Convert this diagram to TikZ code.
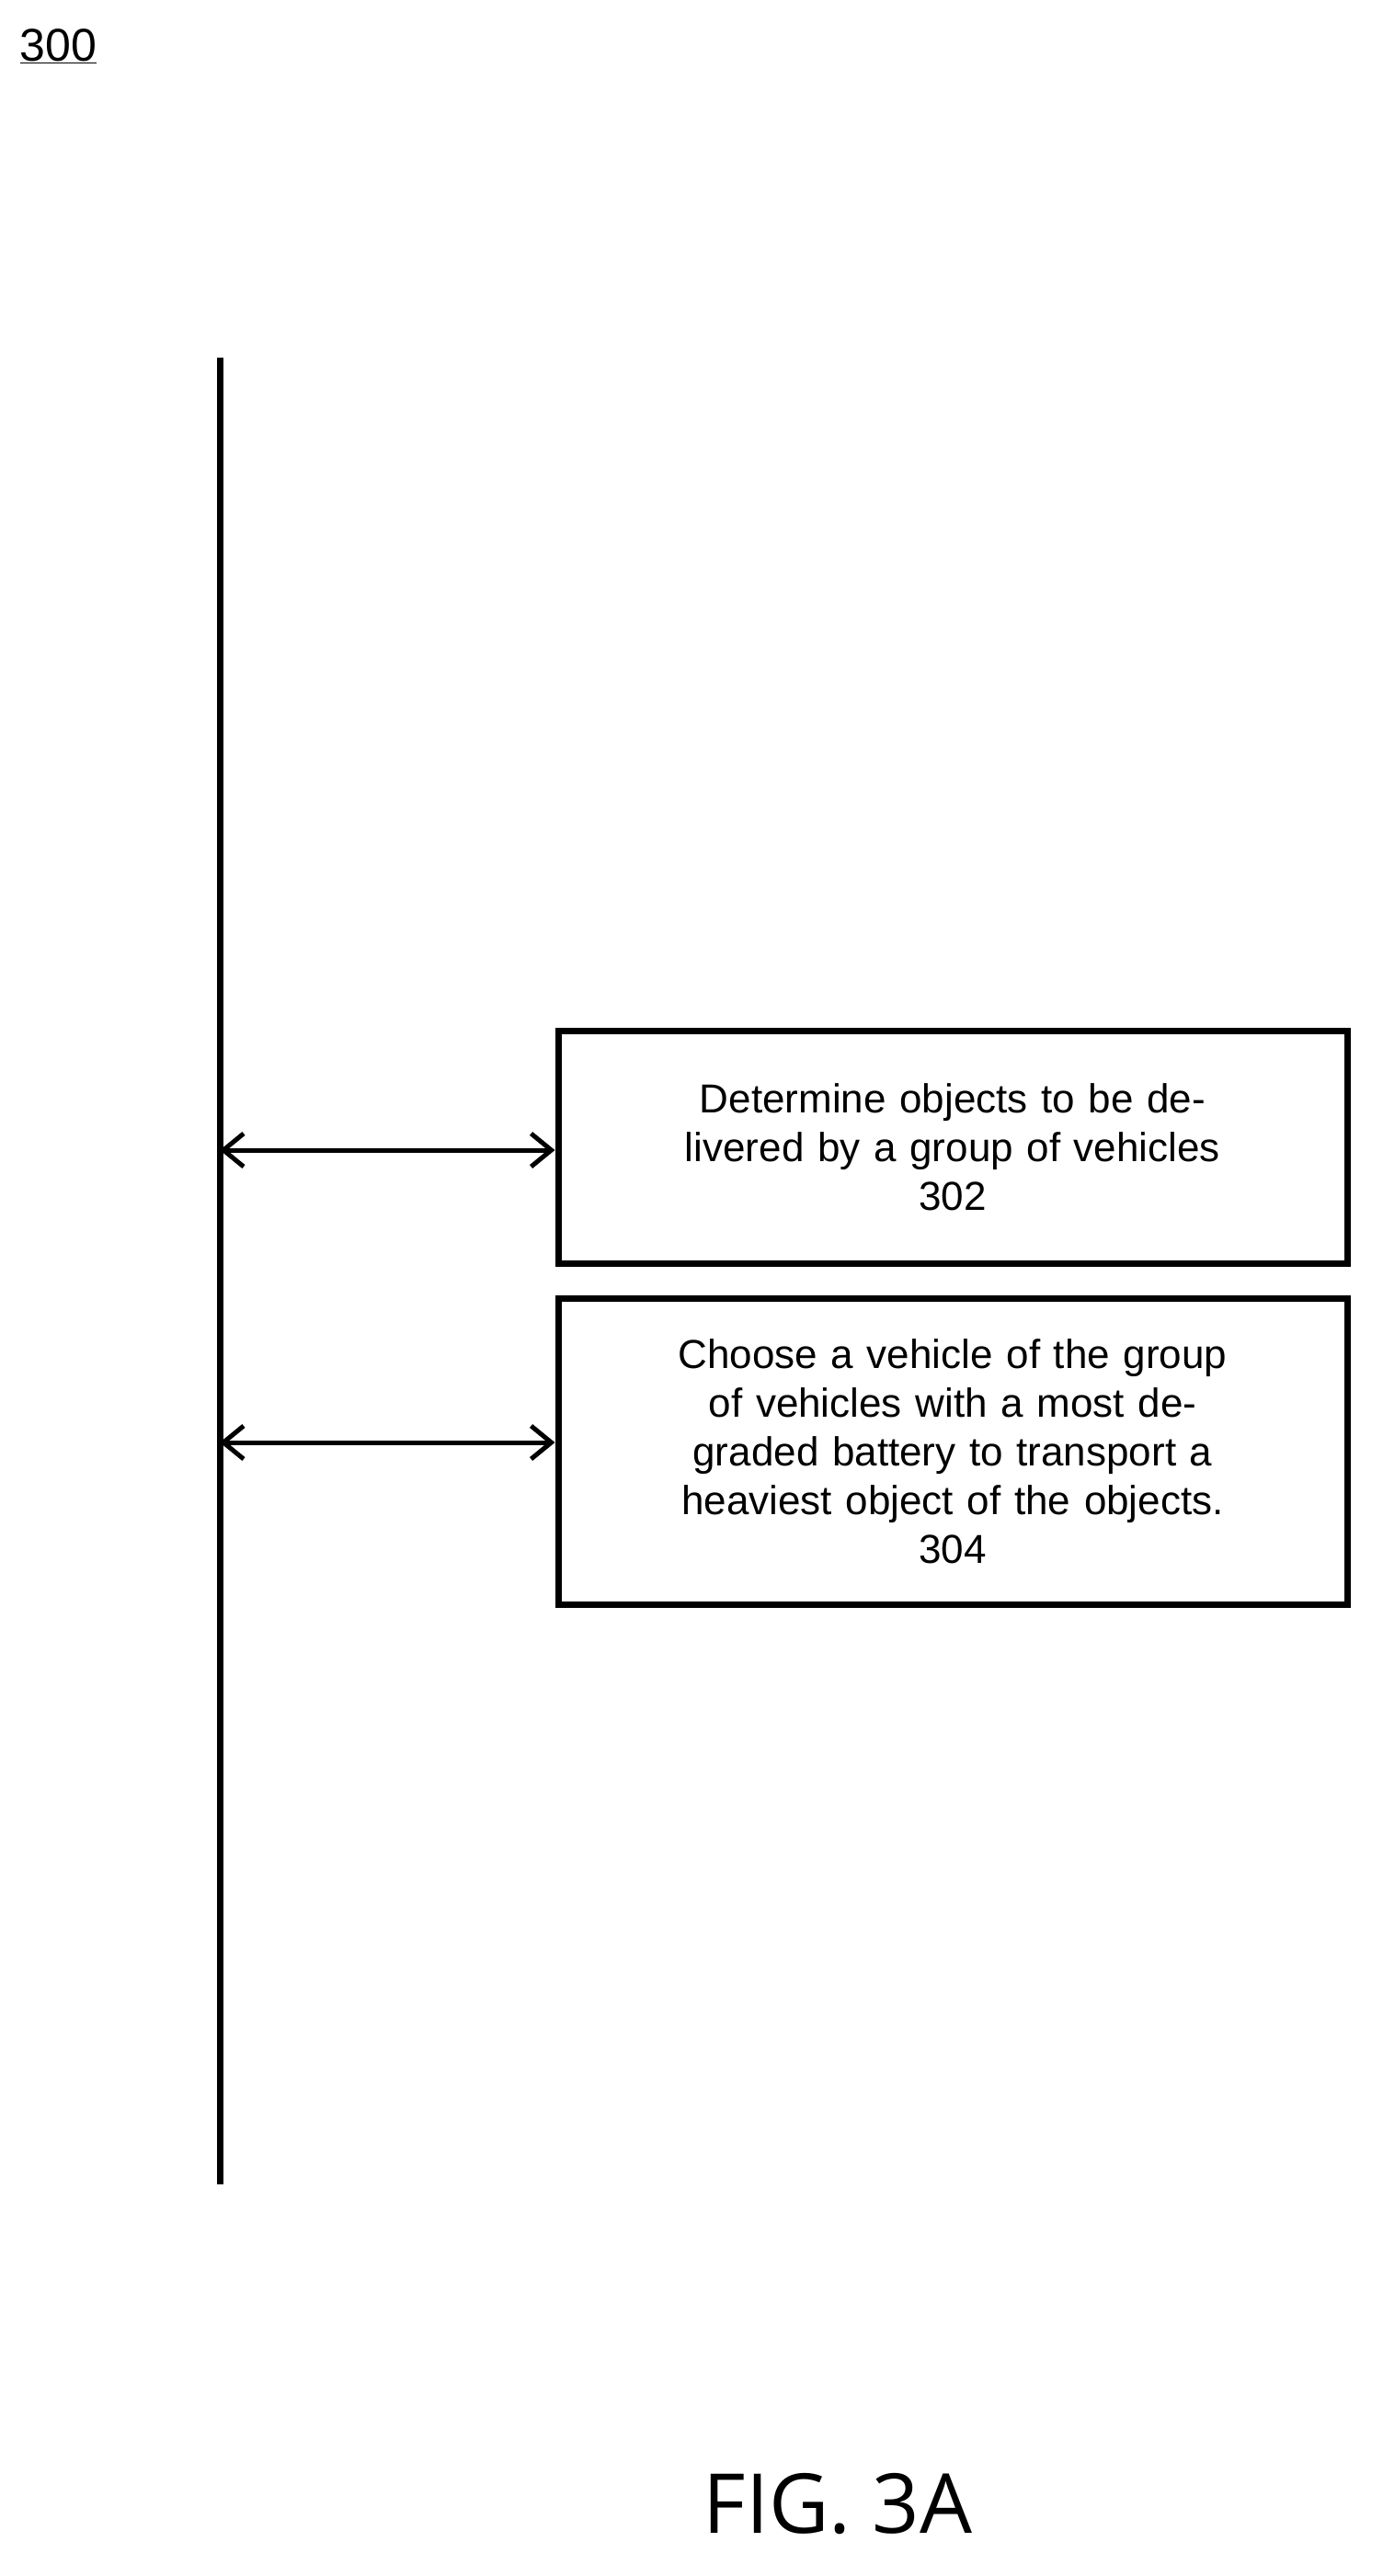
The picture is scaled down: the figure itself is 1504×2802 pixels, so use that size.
\documentclass[tikz,border=0pt]{standalone}
\usepackage{fontspec}
\setmainfont{Liberation Sans}
\newfontfamily\figfont{Open Sans}
\usetikzlibrary{arrows.meta,positioning}
\tikzset{
  step/.style={draw, line width=7pt, minimum width=858pt, minimum height=#1,
    text width=800pt, align=center, inner sep=0pt,
    font=\fontsize{44}{53}\selectfont},
  link/.style={line width=5pt, {Straight Barb[length=22pt,width=36pt]}-{Straight Barb[length=22pt,width=36pt]}}
}
\begin{document}
\begin{tikzpicture}[x=1pt,y=-1pt]
    \useasboundingbox (0,0) rectangle (1504,2802);
    % label
    \node[anchor=west, font=\fontsize{50}{60}\selectfont] (lbl) at (18,50) {\underline{300}};

    % timeline
    \coordinate (top) at (239,389);
    \coordinate (bot) at (239,2376);
    \draw[line width=7pt] (top) -- (bot);

    % steps
    \node[step=253pt] (s302) at (1036,1248) {Determine objects to be delivered by a group of vehicles\\302};
    \node[step=333pt, below=31pt of s302] (s304) {Choose a vehicle of the group of vehicles with a most degraded battery to transport a heaviest object of the objects.\\304};

    \coordinate (a302) at (239,1251);
    \coordinate (a304) at (239,1569);
    \draw[link] (a302) -- (a302 -| s302.west);
    \draw[link] (a304) -- (a304 -| s304.west);

    \node[font=\figfont\fontsize{90}{100}\selectfont] (fig) at (911,2724) {FIG. 3A};
\end{tikzpicture}
\end{document}
